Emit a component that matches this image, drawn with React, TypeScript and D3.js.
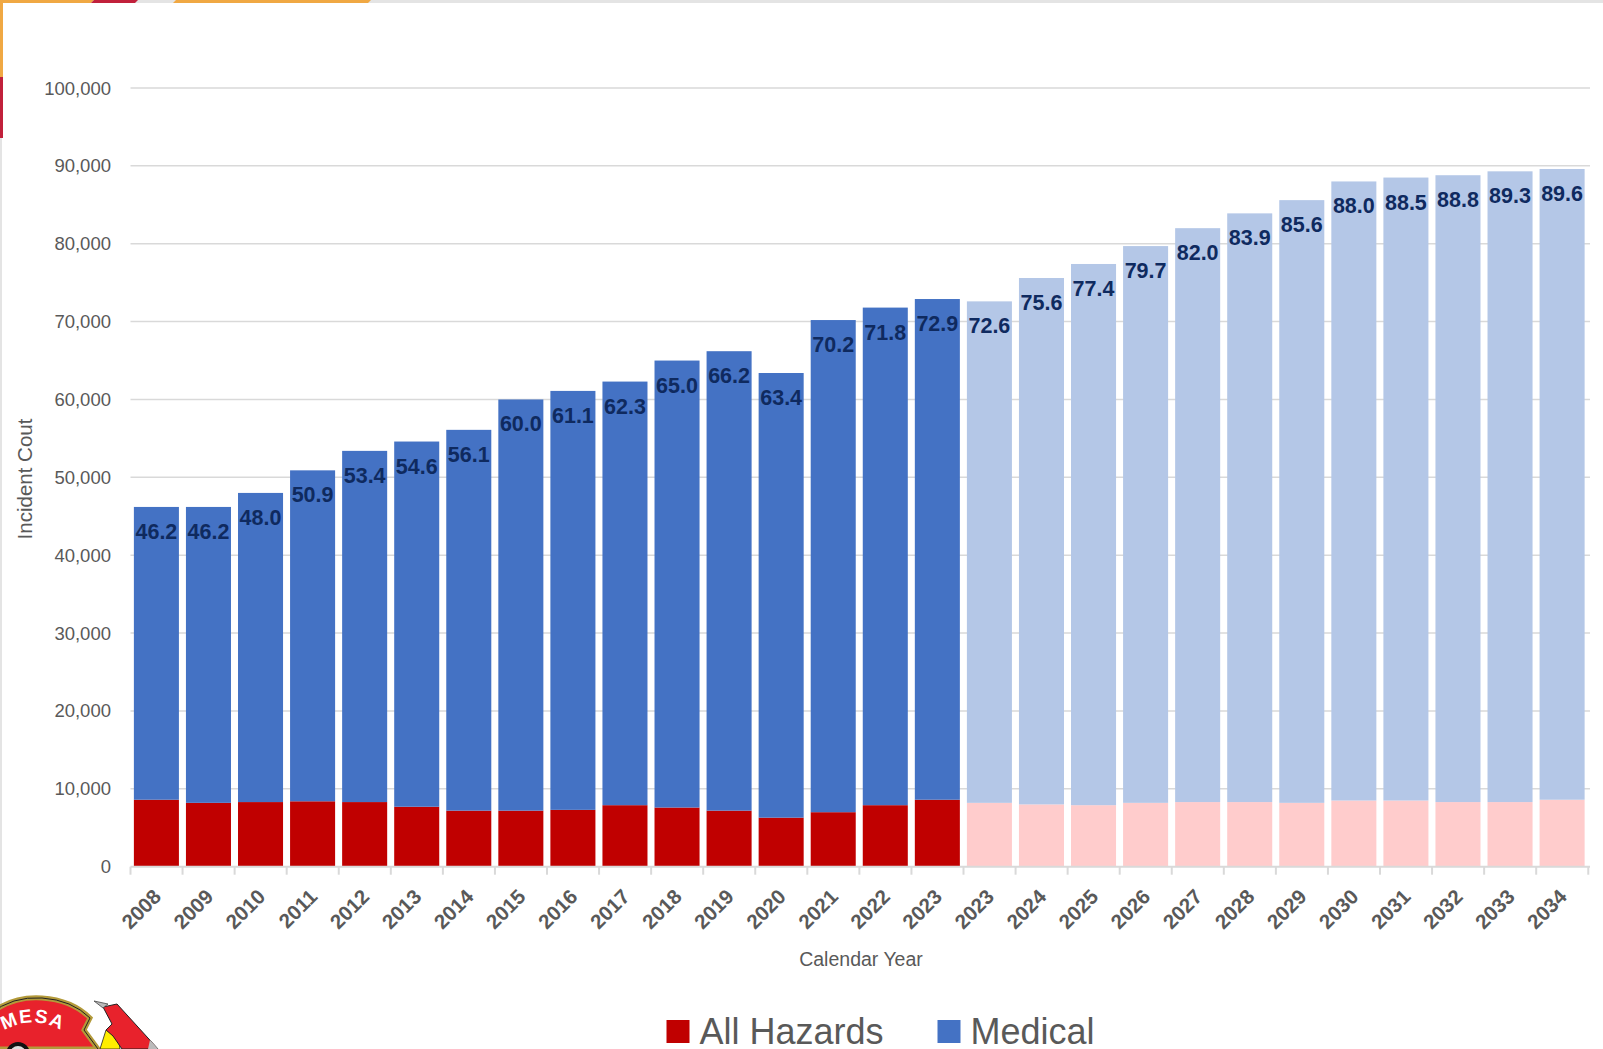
import { useEffect, useRef } from 'react';
import * as d3 from 'd3';

// calendar years (2023 appears twice: actual + projected)
const years = [
  '2008', '2009', '2010', '2011', '2012', '2013', '2014', '2015', '2016', '2017',
  '2018', '2019', '2020', '2021', '2022', '2023', '2023', '2024', '2025', '2026',
  '2027', '2028', '2029', '2030', '2031', '2032', '2033', '2034',
];

const allHazards = [
  8600, 8200, 8300, 8400, 8300, 7700, 7200, 7200, 7300, 7900,
  7600, 7200, 6300, 7000, 7900, 8600, 8200, 8000, 7900, 8200,
  8300, 8300, 8200, 8500, 8500, 8300, 8300, 8600,
];

const medical = [
  37600, 38000, 39700, 42500, 45100, 46900, 48900, 52800, 53800, 54400,
  57400, 59000, 57100, 63200, 63900, 64300, 64400, 67600, 69500, 71500,
  73700, 75600, 77400, 79500, 80000, 80500, 81000, 81000,
];

const projectedFrom = 16;
const yTicks = [0, 10000, 20000, 30000, 40000, 50000, 60000, 70000, 80000, 90000, 100000];

const W = 1603;
const H = 1049;
const plot = { left: 130.5, right: 1588, top: 88, bottom: 866.7 };

const colors = {
  hazards: '#c00000',
  medical: '#4472c4',
  hazardsProj: '#ffcccc',
  medicalProj: '#b4c7e7',
  grid: '#d9d9d9',
  text: '#595959',
  label: '#0f2a5f',
};

const font = '"Liberation Sans", Arial, sans-serif';

const App = () => {
  const ref = useRef<SVGSVGElement>(null);

  useEffect(() => {
    const svg = d3.select(ref.current);
    svg.selectAll('*').remove();

    const x = d3
      .scaleBand<number>()
      .domain(years.map((_, i) => i))
      .range([plot.left, plot.right])
      .paddingInner(0.135)
      .paddingOuter(0.065);
    const y = d3.scaleLinear().domain([0, 100000]).range([plot.bottom, plot.top]);

    // page frame + decorative stripes
    svg.append('rect').attr('width', W).attr('height', H).attr('fill', 'white');
    svg.append('rect').attr('width', W).attr('height', 3).attr('fill', '#e4e4e4');
    svg.append('rect').attr('width', 2).attr('height', H).attr('fill', '#e4e4e4');
    const stripe = (x0: number, x1: number, c: string) =>
      svg.append('path').attr('d', `M${x0},0 L${x1},0 L${x1 - 3},3 L${x0 - 3},3 Z`).attr('fill', c);
    stripe(0, 94, '#f0a843');
    stripe(94, 138, '#c1203b');
    stripe(176, 371, '#f0a843');
    svg.append('rect').attr('x', 0).attr('y', 0).attr('width', 3).attr('height', 77).attr('fill', '#f0a843');
    svg.append('rect').attr('x', 0).attr('y', 77).attr('width', 3).attr('height', 61).attr('fill', '#c1203b');

    // gridlines
    svg
      .append('g')
      .selectAll('line')
      .data(yTicks.slice(1))
      .enter()
      .append('line')
      .attr('x1', plot.left)
      .attr('x2', plot.right + 2)
      .attr('y1', (d) => y(d))
      .attr('y2', (d) => y(d))
      .attr('stroke', colors.grid)
      .attr('stroke-width', 1.5);

    // y tick labels
    svg
      .append('g')
      .selectAll('text')
      .data(yTicks)
      .enter()
      .append('text')
      .attr('x', 111)
      .attr('y', (d) => y(d) + 6.5)
      .attr('text-anchor', 'end')
      .style('font-family', font)
      .style('font-size', '18.5px')
      .attr('fill', colors.text)
      .text((d) => d3.format(',')(d));

    // bars
    const bars = svg.append('g');
    bars
      .selectAll('.haz')
      .data(allHazards)
      .enter()
      .append('rect')
      .attr('x', (_, i) => x(i)!)
      .attr('width', x.bandwidth())
      .attr('y', (d) => y(d))
      .attr('height', (d) => y(0) - y(d))
      .attr('fill', (_, i) => (i >= projectedFrom ? colors.hazardsProj : colors.hazards));
    bars
      .selectAll('.med')
      .data(medical)
      .enter()
      .append('rect')
      .attr('x', (_, i) => x(i)!)
      .attr('width', x.bandwidth())
      .attr('y', (d, i) => y(d + allHazards[i]))
      .attr('height', (d) => y(0) - y(d))
      .attr('fill', (_, i) => (i >= projectedFrom ? colors.medicalProj : colors.medical));

    // total labels (thousands)
    svg
      .append('g')
      .selectAll('text')
      .data(medical)
      .enter()
      .append('text')
      .attr('x', (_, i) => x(i)! + x.bandwidth() / 2)
      .attr('y', (d, i) => y(d + allHazards[i]) + 32)
      .attr('text-anchor', 'middle')
      .style('font-family', font)
      .style('font-size', '21.5px')
      .style('font-weight', 'bold')
      .attr('fill', colors.label)
      .text((d, i) => ((d + allHazards[i]) / 1000).toFixed(1));

    // x axis line + ticks
    svg
      .append('line')
      .attr('x1', plot.left)
      .attr('x2', plot.right + 2)
      .attr('y1', plot.bottom)
      .attr('y2', plot.bottom)
      .attr('stroke', colors.grid)
      .attr('stroke-width', 2);
    const step = x.step();
    svg
      .append('g')
      .selectAll('line')
      .data(d3.range(years.length + 1))
      .enter()
      .append('line')
      .attr('x1', (i) => plot.left + i * step)
      .attr('x2', (i) => plot.left + i * step)
      .attr('y1', plot.bottom)
      .attr('y2', plot.bottom + 8)
      .attr('stroke', colors.grid)
      .attr('stroke-width', 2);

    // x tick labels, rotated
    svg
      .append('g')
      .selectAll('text')
      .data(years)
      .enter()
      .append('text')
      .attr('transform', (_, i) => `translate(${x(i)! + x.bandwidth() / 2 + 6},898) rotate(-45)`)
      .attr('text-anchor', 'end')
      .style('font-family', font)
      .style('font-size', '20.5px')
      .style('font-weight', 'bold')
      .attr('fill', colors.text)
      .text((d) => d);

    // axis titles
    svg
      .append('text')
      .attr('x', 861)
      .attr('y', 966)
      .attr('text-anchor', 'middle')
      .style('font-family', font)
      .style('font-size', '19.5px')
      .attr('fill', colors.text)
      .text('Calendar Year');
    svg
      .append('text')
      .attr('transform', 'translate(31.5,479) rotate(-90)')
      .attr('text-anchor', 'middle')
      .style('font-family', font)
      .style('font-size', '20.5px')
      .attr('fill', colors.text)
      .text('Incident Cout');

    // legend
    const legend = [
      { name: 'All Hazards', color: colors.hazards, x: 666.5 },
      { name: 'Medical', color: colors.medical, x: 937.5 },
    ];
    const lg = svg.append('g').selectAll('g').data(legend).enter().append('g');
    lg.append('rect')
      .attr('x', (d) => d.x)
      .attr('y', 1020)
      .attr('width', 23)
      .attr('height', 23)
      .attr('fill', (d) => d.color);
    lg.append('text')
      .attr('x', (d) => d.x + 33)
      .attr('y', 1044)
      .style('font-family', font)
      .style('font-size', '36px')
      .attr('fill', colors.text)
      .text((d) => d.name);

    // Mesa fire badge (partially visible, bottom-left)
    const logo = svg.append('g');
    logo
      .append('path')
      .attr('d', 'M-10,1014 Q12,996 42,998 Q72,1000 90,1018 L84,1030 L98,1049 L-10,1049 Z')
      .attr('fill', '#e8222c')
      .attr('stroke', '#b39a3a')
      .attr('stroke-width', 5);
    logo
      .append('path')
      .attr('d', 'M-10,1014 Q12,996 42,998 Q72,1000 90,1018 L84,1030 L98,1049')
      .attr('fill', 'none')
      .attr('stroke', '#222')
      .attr('stroke-width', 1);
    logo.append('circle').attr('cx', 18).attr('cy', 1054).attr('r', 12).attr('fill', '#111');
    logo.append('circle').attr('cx', 18).attr('cy', 1054).attr('r', 8).attr('fill', '#ddd');
    logo
      .append('path')
      .attr('id', 'mesaArc')
      .attr('d', 'M-6,1037 Q32,1008 72,1037')
      .attr('fill', 'none');
    logo
      .append('text')
      .style('font-family', font)
      .style('font-size', '19px')
      .style('font-weight', 'bold')
      .attr('fill', 'white')
      .attr('letter-spacing', 1.5)
      .append('textPath')
      .attr('href', '#mesaArc')
      .attr('startOffset', '50%')
      .attr('text-anchor', 'middle')
      .text('MESA');
    logo
      .append('path')
      .attr('d', 'M100,1049 L106,1030 L118,1036 L120,1049 Z')
      .attr('fill', '#ffee00')
      .attr('stroke', '#222')
      .attr('stroke-width', 0.8);
    logo
      .append('path')
      .attr('d', 'M103,1007 L117,1004 L158,1049 L122,1049 L113,1036 L106,1030 L112,1024 Z')
      .attr('fill', '#e8222c')
      .attr('stroke', '#222')
      .attr('stroke-width', 1);
    logo
      .append('path')
      .attr('d', 'M94,1001 L108,1004 L103,1008 Z')
      .attr('fill', '#bbb')
      .attr('stroke', '#444')
      .attr('stroke-width', 0.8);
    logo
      .append('path')
      .attr('d', 'M150,1040 L158,1049 L148,1049 Z')
      .attr('fill', '#bbb');
  }, []);

  return (
    <svg
      ref={ref}
      width={W}
      height={H}
      style={{ position: 'absolute', left: 0, top: 0, display: 'block' }}
    />
  );
};

export default App;
